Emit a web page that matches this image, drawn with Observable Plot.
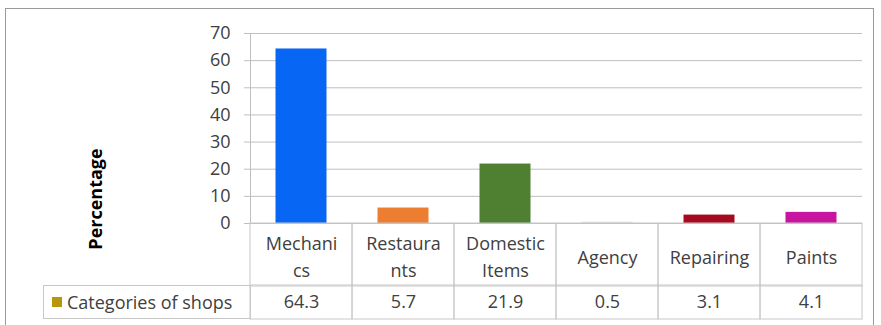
<!DOCTYPE html>
<html>
<head>
<meta charset="utf-8">
<script src="https://cdn.jsdelivr.net/npm/d3@7"></script>
<script src="https://cdn.jsdelivr.net/npm/@observablehq/plot@0.6"></script>
<style>
  body { margin: 0; background: #fff; }
  #wrap { position: relative; width: 881px; height: 325px; font-family: "Open Sans", sans-serif; color: #404040; overflow: hidden; }
  #outer { position: absolute; left: 5px; top: 8px; width: 869px; height: 318px; border: 1.5px solid #9a9a9a; box-sizing: border-box; }
  .layer { position: absolute; left: 0; overflow: visible; }
  #ylabel { position: absolute; left: 95px; top: 199px; transform: translate(-50%, -50%) rotate(-90deg); font-weight: bold; font-size: 18px; color: #000; white-space: nowrap; }
  #legend { position: absolute; left: 43px; top: 285px; width: 208px; height: 34px; border: 1px solid #c8c8c8; box-sizing: border-box; display: flex; align-items: center; font-size: 18px; color: #404040; white-space: nowrap; }
  #legend .key { display: inline-block; width: 10px; height: 10px; margin: 0 5px 0 8px; }
</style>
</head>
<body>
<div id="wrap">
  <div id="outer"></div>
  <div id="ylabel"></div>
  <div id="legend"><span class="key"></span><span class="ltext"></span></div>
</div>
<script>
// ---- data ----
const categories = ["Mechanics", "Restaurants", "Domestic Items", "Agency", "Repairing", "Paints"];
const categoryLabels = ["Mechani\ncs", "Restaura\nnts", "Domestic\nItems", "Agency", "Repairing", "Paints"];
const values = [64.3, 5.7, 21.9, 0.5, 3.1, 4.1];
const barColors = ["#0866f5", "#ed7d31", "#4f7f30", "#e4e4e4", "#a50a1e", "#c8159f"];
const yTicks = [0, 10, 20, 30, 40, 50, 60, 70];
const seriesName = "Categories of shops";
const yTitle = "Percentage";
const legendColor = "#b8960c";

const data = categories.map((c, i) => ({cat: c, label: categoryLabels[i], value: values[i], color: barColors[i]}));

const W = 881;
const ML = 250, MR = 19;
const gridColor = "#bfbfbf";
const tableColor = "#c8c8c8";
const textColor = "#404040";
const font = "'Open Sans', sans-serif";
const xScale = {type: "band", domain: categories, padding: 0};

// ---- chart area ----
const chart = Plot.plot({
  width: W, height: 240,
  marginLeft: ML, marginRight: MR, marginTop: 33, marginBottom: 17,
  style: {fontFamily: font, fontSize: "18px", color: textColor, background: "transparent", overflow: "visible"},
  x: {...xScale, axis: null},
  y: {domain: [0, 70], ticks: yTicks},
  color: {type: "identity"},
  marks: [
    Plot.gridY(yTicks.filter(t => t > 0), {stroke: gridColor, strokeOpacity: 1}),
    Plot.axisY(yTicks, {tickSize: 6, tickPadding: 14, stroke: gridColor, fill: textColor, fontSize: 18, label: null}),
    Plot.frame({anchor: "left", stroke: gridColor}),
    Plot.barY(data, {x: "cat", y: "value", fill: "color", insetLeft: 25.5, insetRight: 25.5}),
    Plot.ruleY([0], {stroke: gridColor})
  ]
});
chart.classList.add("layer");
chart.style.top = "0px";

// ---- table row 1: category names ----
const row1 = Plot.plot({
  width: W, height: 63,
  marginLeft: ML, marginRight: MR, marginTop: 0, marginBottom: 0,
  style: {fontFamily: font, fontSize: "18px", color: textColor, background: "transparent"},
  x: {...xScale, axis: null},
  marks: [
    Plot.cell(data, {x: "cat", stroke: tableColor, fill: "none"}),
    Plot.text(data, {x: "cat", text: "label", fontSize: 18, lineHeight: 1.5, fill: textColor})
  ]
});
row1.classList.add("layer");
row1.style.top = "223px";

// ---- table row 2: values ----
const row2 = Plot.plot({
  width: W, height: 34,
  marginLeft: ML, marginRight: MR, marginTop: 0, marginBottom: 0,
  style: {fontFamily: font, fontSize: "18px", color: textColor, background: "transparent"},
  x: {...xScale, axis: null},
  marks: [
    Plot.cell(data, {x: "cat", stroke: tableColor, fill: "none"}),
    Plot.text(data, {x: "cat", text: d => d.value.toFixed(1), fontSize: 18, fill: textColor})
  ]
});
row2.classList.add("layer");
row2.style.top = "285px";

const wrap = document.getElementById("wrap");
wrap.appendChild(chart);
wrap.appendChild(row1);
wrap.appendChild(row2);
document.getElementById("ylabel").textContent = yTitle;
document.querySelector("#legend .key").style.background = legendColor;
document.querySelector("#legend .ltext").textContent = seriesName;
</script>
</body>
</html>
